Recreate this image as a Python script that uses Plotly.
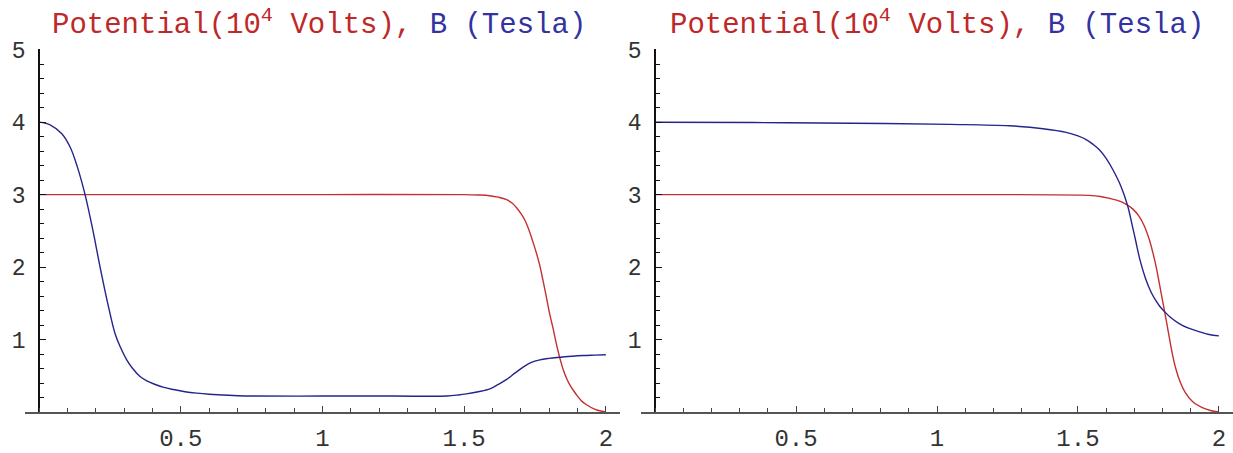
import plotly.graph_objects as go

# ---- data ----
left_pot_x = [0.0, 0.5, 1.0, 1.5, 1.55, 1.59, 1.62, 1.65, 1.67, 1.685, 1.70, 1.714, 1.725, 1.735, 1.745, 1.756, 1.767,
              1.778, 1.79, 1.802, 1.814, 1.826, 1.838, 1.85, 1.862, 1.875, 1.885, 1.90, 1.915, 1.932, 1.96, 1.985, 2.0]
left_pot_y = [3.0, 3.0, 3.0, 3.0, 2.995, 2.985, 2.965, 2.93, 2.88, 2.82, 2.74, 2.65, 2.55, 2.44, 2.32, 2.18, 2.02,
              1.82, 1.59, 1.35, 1.15, 0.93, 0.74, 0.58, 0.46, 0.36, 0.30, 0.22, 0.15, 0.10, 0.04, 0.01, 0.0]

left_b_x = [0.0, 0.04, 0.08, 0.11, 0.135, 0.162, 0.19, 0.215, 0.242, 0.268, 0.286, 0.309, 0.33, 0.356, 0.38, 0.403,
            0.44, 0.474, 0.515, 0.556, 0.6, 0.65, 0.7, 0.756, 1.0, 1.25, 1.438, 1.48, 1.508, 1.55, 1.591, 1.62, 1.65,
            1.68, 1.708, 1.735, 1.767, 1.80, 1.838, 1.88, 1.92, 1.96, 2.0]
left_b_y = [4.0, 3.96, 3.84, 3.65, 3.38, 3.0, 2.5, 2.0, 1.5, 1.08, 0.9, 0.72, 0.6, 0.49, 0.43, 0.39,
            0.34, 0.31, 0.28, 0.26, 0.245, 0.235, 0.225, 0.22, 0.22, 0.22, 0.22, 0.235, 0.25, 0.28, 0.32, 0.38, 0.45,
            0.54, 0.62, 0.68, 0.72, 0.74, 0.755, 0.77, 0.78, 0.785, 0.79]

right_pot_x = [0.0, 0.5, 1.0, 1.54, 1.58, 1.611, 1.64, 1.67, 1.695, 1.717, 1.735, 1.753, 1.765, 1.776, 1.788, 1.80,
               1.812, 1.823, 1.835, 1.847, 1.862, 1.882, 1.91, 1.941, 1.97, 2.0]
right_pot_y = [3.0, 3.0, 3.0, 2.99, 2.975, 2.95, 2.92, 2.87, 2.80, 2.70, 2.57, 2.38, 2.21, 2.03, 1.79, 1.54,
               1.29, 1.05, 0.80, 0.60, 0.42, 0.26, 0.13, 0.06, 0.02, 0.0]

right_b_x = [0.0, 0.35, 0.70, 1.046, 1.258, 1.376, 1.458, 1.50, 1.529, 1.555, 1.576, 1.60, 1.623, 1.652, 1.676, 1.69,
             1.705, 1.72, 1.74, 1.76, 1.776, 1.79, 1.806, 1.83, 1.859, 1.89, 1.929, 1.965, 2.0]
right_b_y = [4.0, 3.995, 3.985, 3.97, 3.95, 3.91, 3.86, 3.81, 3.76, 3.69, 3.62, 3.50, 3.35, 3.12, 2.85, 2.62,
             2.36, 2.10, 1.84, 1.65, 1.54, 1.46, 1.39, 1.30, 1.22, 1.16, 1.11, 1.07, 1.05]

x_tick_vals = [0.5, 1, 1.5, 2]
x_tick_text = ["0.5", "1", "1.5", "2"]
y_tick_vals = [1, 2, 3, 4, 5]
y_tick_text = ["1", "2", "3", "4", "5"]

RED = "rgb(196,48,48)"
BLUE = "rgb(36,36,140)"
TITLE_RED = "rgb(190,40,40)"
TITLE_BLUE = "rgb(50,50,160)"
MONO = "Liberation Mono, Courier New, monospace"

W, H = 1233, 453
ML, MR, MT, MB = 25, 0, 48.5, 37
PW = W - ML - MR

def paper_x(px):
    return (px - ML) / PW

fig = go.Figure()
line_kw = dict(width=1.4, shape="spline", smoothing=1.0)
fig.add_trace(go.Scatter(x=left_pot_x, y=left_pot_y, mode="lines", line=dict(color=RED, **line_kw), xaxis="x", yaxis="y"))
fig.add_trace(go.Scatter(x=left_b_x, y=left_b_y, mode="lines", line=dict(color=BLUE, **line_kw), xaxis="x", yaxis="y"))
fig.add_trace(go.Scatter(x=right_pot_x, y=right_pot_y, mode="lines", line=dict(color=RED, **line_kw), xaxis="x2", yaxis="y2"))
fig.add_trace(go.Scatter(x=right_b_x, y=right_b_y, mode="lines", line=dict(color=BLUE, **line_kw), xaxis="x2", yaxis="y2"))

xr = [-0.05, 2.05]
yr = [0, 5.01]

def xaxis_cfg(domain, anchor):
    return dict(domain=domain, range=xr, anchor=anchor, tickvals=x_tick_vals, ticktext=x_tick_text,
                ticks="inside", ticklen=6, tickwidth=1, tickcolor="#444",
                minor=dict(dtick=0.1, tick0=0, ticks="inside", ticklen=4, tickcolor="#444"),
                showline=True, linecolor="#555", linewidth=1.5, showgrid=False, zeroline=False,
                tickfont=dict(family=MONO, size=24, color="#333"), ticklabelstandoff=3)

def yaxis_cfg(pos):
    return dict(domain=[0, 1], range=yr, anchor="free", position=pos, tickvals=y_tick_vals, ticktext=y_tick_text,
                ticks="inside", ticklen=6, tickwidth=1, tickcolor="#111",
                minor=dict(dtick=0.2, tick0=0, ticks="inside", ticklen=4, tickcolor="#111"),
                showline=True, linecolor="#111", linewidth=1.5, showgrid=False, zeroline=False,
                tickfont=dict(family=MONO, size=23, color="#333"), ticklabelstandoff=8)

fig.update_layout(
    width=W, height=H, margin=dict(l=ML, r=MR, t=MT, b=MB),
    paper_bgcolor="white", plot_bgcolor="white", showlegend=False,
    xaxis=xaxis_cfg([0, paper_x(620)], "y"),
    xaxis2=xaxis_cfg([paper_x(641), 1], "y2"),
    yaxis=yaxis_cfg(paper_x(39)),
    yaxis2=yaxis_cfg(paper_x(655)),
)

title = ("<span style='color:%s'>Potential(10<sup>4</sup> Volts),</span>"
         "<span style='color:%s'> B (Tesla)</span>") % (TITLE_RED, TITLE_BLUE)
for cx in (319, 937):
    fig.add_annotation(text=title, xref="paper", yref="paper", x=paper_x(cx), y=1 + (MT - 22) / (H - MT - MB),
                       xanchor="center", yanchor="middle", showarrow=False,
                       font=dict(family=MONO, size=29))

fig.write_html("out.html")
